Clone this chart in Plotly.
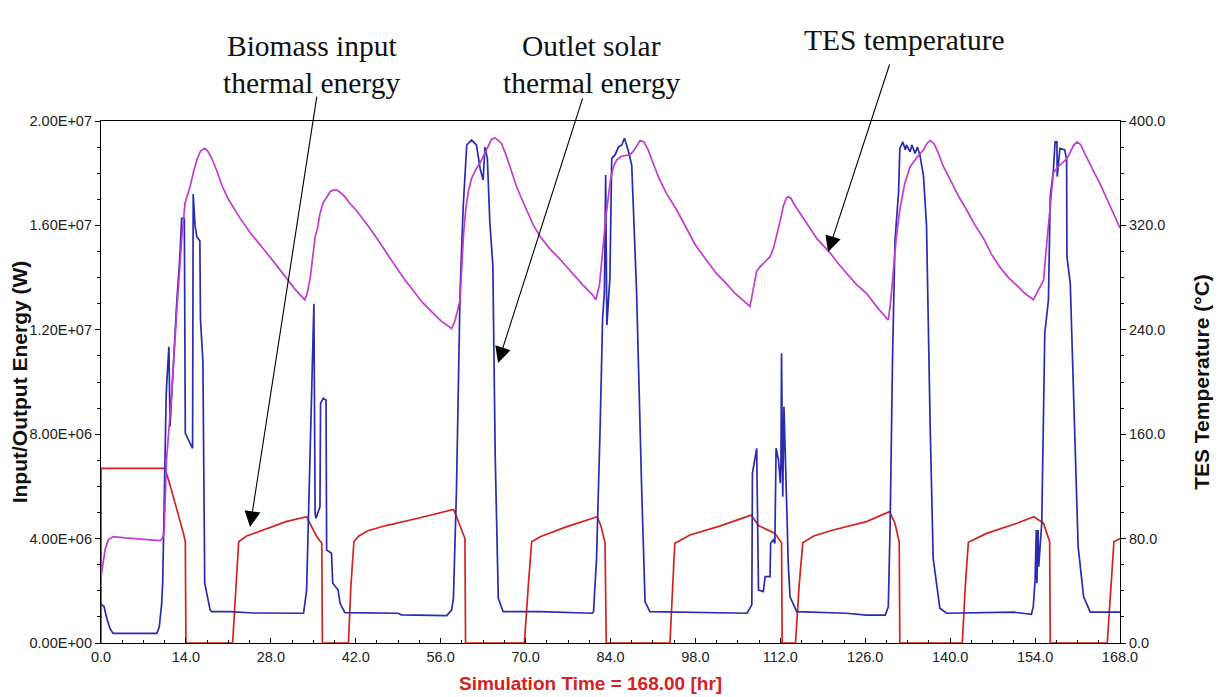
import plotly.graph_objects as go

# ---------------- data (time in hr, energy in 1e6 W, temperature in degC) -------------
biomass_t = [0, 0, 10.2, 10.55, 11.38, 12.75, 13.6, 13.9, 14.0,
             21.7, 22.2, 22.7, 24.0, 27.3, 30.5, 33.9, 34.7, 35.5, 36.4, 36.5,
             40.8, 41.2, 41.7, 42.5, 44.0, 47.0, 52.6, 57.5, 58.1, 58.4, 59.2, 60.0, 60.1,
             69.8, 70.45, 71.0, 72.4, 76.8, 81.8, 82.4, 83.1, 83.3,
             93.8, 94.2, 94.6, 97.1, 102.0, 107.2, 108.4, 111.1, 112.2, 112.3,
             114.5, 115.1, 115.7, 117.5, 120.7, 126.2, 130.0, 130.9, 131.6, 131.7,
             142.0, 142.5, 143.0, 146.0, 151.0, 153.8, 155.4, 156.4, 156.5,
             165.9, 166.5, 167.0, 168.0]
biomass_mw = [0, 6.69, 6.69, 6.69, 6.05, 4.97, 4.2, 3.88, 0,
              0, 2.2, 3.88, 4.1, 4.39, 4.65, 4.84, 4.46, 4.1, 3.82, 0,
              0, 2.2, 3.88, 4.1, 4.3, 4.5, 4.8, 5.1, 5.12, 4.97, 4.52, 4.01, 0,
              0, 2.2, 3.88, 4.07, 4.46, 4.84, 4.5, 3.84, 0,
              0, 2.2, 3.82, 4.14, 4.48, 4.9, 4.5, 4.2, 3.84, 0,
              0, 2.2, 3.84, 4.1, 4.33, 4.65, 5.03, 4.59, 3.88, 0,
              0, 2.2, 3.86, 4.2, 4.59, 4.84, 4.59, 3.88, 0,
              0, 2.2, 3.88, 4.0]

solar_t = [0, 0.5, 1.0, 1.5, 2.0, 9.2, 9.6, 10.0, 10.17, 10.55, 10.75, 10.9, 11.1, 11.2,
           11.38, 11.9, 12.5, 13.0, 13.3, 13.74, 13.9, 15.1, 15.2, 15.5, 15.8, 16.3, 16.4,
           16.8, 17.1, 18.0, 18.25, 21.3, 25.0, 33.1,
           33.4, 33.9, 34.2, 34.6, 34.9, 35.1, 35.3, 35.45, 36.1, 36.2, 36.65, 37.1, 37.2,
           38.0, 38.2, 39.1, 39.4, 40.2, 49.0, 49.5, 57.0,
           57.8, 58.1, 58.6, 59.2, 59.7, 60.3, 61.1, 61.9, 62.5, 63.0, 63.3, 63.7, 64.1,
           64.6, 65.0, 65.5, 66.3, 72.4, 81.0,
           81.2, 81.7, 82.3, 82.7, 83.0, 83.2, 83.4, 83.9, 84.2, 84.75, 85.3, 85.85, 86.3,
           86.9, 87.5, 88.3, 89.15, 89.7, 90.5, 102.0, 106.5,
           107.3, 107.4, 108.1, 108.4, 109.2, 109.5, 110.3, 110.4, 110.85, 111.1, 111.3,
           111.7, 112.0, 112.1, 112.2, 112.4, 112.6, 112.8, 113.1, 113.3, 113.6, 114.7,
           122.9, 126.2, 129.3,
           129.8, 130.1, 130.5, 130.9, 131.5, 131.7, 132.2, 132.6, 132.8, 133.4, 133.7,
           134.2, 134.6, 135.0, 135.6, 136.1, 136.7, 137.2, 138.3, 139.4, 150.4, 153.4,
           153.7, 154.0, 154.2, 154.3, 154.5, 154.6, 155.1, 155.4, 155.6, 156.2, 156.5,
           157.0, 157.3, 157.6, 157.65, 158.1, 158.9, 159.2, 159.25, 159.8, 160.3, 160.6,
           161.1, 162.0, 163.1, 168.0]
solar_mw = [1.49, 1.4, 0.9, 0.55, 0.37, 0.37, 0.6, 1.5, 2.3, 7.9, 9.5, 10.2, 11.35, 11.35,
            8.3, 10.8, 13.1, 14.8, 16.27, 16.27, 8.03, 7.46, 17.2, 16.0, 15.57, 15.4, 12.4,
            10.8, 2.29, 1.26, 1.2, 1.2, 1.15, 1.14,
            1.15, 2.03, 4.97, 8.8, 10.97, 13.0, 4.97, 4.78, 5.22, 9.18, 9.38, 9.3, 3.56,
            3.44, 2.29, 2.03, 1.53, 1.16, 1.14, 1.08, 1.05,
            1.26, 1.71, 5.8, 13.46, 16.65, 19.08, 19.27, 19.08, 18.19, 17.74, 19.0, 18.57, 16.14,
            14.48, 7.08, 1.71, 1.2, 1.2, 1.14,
            1.2, 3.24, 8.35, 12.44, 13.46, 17.93, 12.18, 13.97, 18.57, 18.7, 19.0, 19.08, 19.34,
            18.89, 18.31, 13.46, 5.8, 1.58, 1.2, 1.14, 1.14,
            1.46, 6.5, 7.46, 2.03, 1.97, 2.54, 2.54, 3.82, 3.95, 3.82, 7.46,
            7.01, 6.12, 6.89, 11.1, 5.6, 9.05, 6.89, 4.84, 3.05, 1.77, 1.2,
            1.14, 1.07, 1.07,
            1.39, 4.52, 10.9, 15.4, 17.3, 18.95, 19.2, 18.9, 19.08, 18.82, 19.08,
            18.76, 19.0, 18.7, 17.9, 16.0, 8.35, 3.24, 1.33, 1.14, 1.18, 1.1,
            1.39, 2.41, 4.33, 2.29, 4.33, 2.92, 4.59, 10.08, 11.87, 13.14, 17.1,
            18.06, 19.2, 19.2, 17.87, 18.95, 18.89, 18.5, 14.8, 13.78, 9.8, 7.52,
            3.69, 1.77, 1.18, 1.18]

tes_t = [0, 0.3, 0.7, 1.2, 2.0, 4.0, 7.0, 9.8, 10.1, 10.4, 10.8, 11.65, 12.5, 13.3, 13.85,
         14.7, 15.2, 15.8, 16.4, 17.1, 17.6, 18.2, 19.0, 20.0, 21.0, 21.8, 23.0, 24.5, 26.0,
         27.3, 29.0, 30.5, 32.0, 33.6,
         34.0, 34.5, 35.0, 35.3, 35.7, 36.1, 36.6, 37.2, 37.8, 38.3, 38.9, 39.5, 40.2, 41.0,
         42.0, 43.0, 44.0, 45.5, 47.0, 48.5, 50.0, 51.5, 53.0, 54.5, 56.0, 57.8,
         58.3, 58.8, 59.2, 59.5, 59.8, 60.2, 60.6, 61.1, 61.7, 62.5, 63.2, 63.8, 64.4, 65.0,
         66.0, 66.7, 67.5, 68.5, 69.3, 70.2, 71.3, 72.5, 74.0, 75.5, 76.8, 78.0, 79.5, 81.0,
         81.6,
         82.2, 82.8, 83.2, 83.6, 84.0, 84.5, 85.0, 85.8, 87.2, 87.8, 88.4, 88.9, 89.5, 90.2,
         91.0, 92.0, 93.3, 94.9, 96.5, 98.0, 99.7, 101.5, 103.0, 104.5, 107.0,
         107.4, 108.1, 108.6, 109.3, 110.3, 110.9, 111.5, 112.0, 112.5, 113.0, 113.3, 113.7,
         114.3, 115.3, 116.5, 118.0, 120.2, 121.5, 123.0, 124.5, 126.2, 128.0, 129.8,
         130.2, 130.6, 131.1, 131.7, 132.5, 133.4, 134.5, 135.6, 136.2, 136.7, 137.3, 138.0,
         138.9, 140.0, 141.3, 142.7, 144.0, 145.5, 146.8, 148.2, 149.6, 151.0, 152.3, 153.7,
         154.5, 155.4, 155.8, 156.2, 156.6, 157.0, 157.6, 158.3, 159.2, 159.7, 160.3, 160.9,
         161.5, 162.2, 163.0, 163.8, 164.7, 166.4, 168.0]
tes_c = [50.8, 60, 72, 79, 81.5, 80.5, 79.5, 78.5, 80, 84, 140, 191, 255, 309, 337,
         350, 360, 370, 377, 379, 377, 372, 363, 350, 340, 334, 325, 315, 306,
         299, 289, 280, 271, 263,
         268, 280, 300, 311, 318, 329, 337, 342, 346, 347, 347, 345, 342, 337,
         332, 326, 320, 310, 300, 289, 279, 270, 261, 254, 247, 241,
         246, 255, 263, 290, 315, 335, 347, 356, 362, 368, 375, 381, 386, 387,
         383, 375, 364, 350, 341, 332, 320, 311, 302, 295, 288, 282, 274, 267,
         263,
         275, 306, 325, 340, 355, 365, 370, 373, 374, 377, 382, 385, 384, 378,
         368, 356, 344, 332, 318, 305, 294, 283, 276, 268, 258,
         268, 285, 288, 291, 296, 303, 314, 324, 335, 341, 342, 341,
         336, 329, 320, 310, 299, 291, 283, 275, 268, 257, 247.5,
         262, 283, 310, 332, 352, 365, 372, 378, 383, 385, 383, 376,
         365, 355, 343, 332, 321, 310, 298, 288, 280, 274, 268, 263,
         270, 278, 300, 319, 340, 360, 364, 367, 371, 375, 381, 384,
         382, 375, 367, 360, 352, 335, 318]

left_ticks_mw = [0, 4, 8, 12, 16, 20]
right_ticks_c = [0, 80, 160, 240, 320, 400]

# ---------------------------------------------------------------------------------------
BLUE = "#2B2BAE"
RED = "#D42222"
PURPLE = "#C23CD0"

fig = go.Figure()
fig.add_trace(go.Scatter(x=biomass_t, y=[v * 1e6 for v in biomass_mw], mode="lines",
                         line=dict(color=RED, width=1.7), name="Biomass input thermal energy"))
fig.add_trace(go.Scatter(x=solar_t, y=[v * 1e6 for v in solar_mw], mode="lines",
                         line=dict(color=BLUE, width=1.7), name="Outlet solar thermal energy"))
fig.add_trace(go.Scatter(x=tes_t, y=tes_c, mode="lines", yaxis="y2",
                         line=dict(color=PURPLE, width=1.7), name="TES temperature"))

tick_font = dict(family="Liberation Sans, Arial, sans-serif", size=14.5, color="#222222")
title_font = dict(family="Liberation Sans, Arial, sans-serif", size=21, color="#111111")

left_vals = [v * 1e6 for v in left_ticks_mw]
fig.update_layout(
    width=1222, height=697,
    margin=dict(l=93, r=110, t=113, b=62),
    paper_bgcolor="white", plot_bgcolor="white",
    showlegend=False,
    xaxis=dict(range=[0, 168], tick0=0, dtick=14, tickformat=".1f", automargin=False,
               showgrid=False, zeroline=False, showline=True, linecolor="black",
               linewidth=1.2, mirror=True, ticks="inside", ticklen=5, tickcolor="black",
               minor=dict(dtick=3.5, ticks="inside", ticklen=3, tickcolor="black"),
               tickfont=tick_font),
    yaxis=dict(range=[0, 2e7], tickvals=left_vals, automargin=False,
               ticktext=[f"{v:.2E}" for v in left_vals],
               showgrid=False, zeroline=False, showline=True, linecolor="black",
               linewidth=1.2, ticks="outside", ticklen=5, tickcolor="black",
               minor=dict(dtick=1e6, ticks="outside", ticklen=3, tickcolor="black"),
               tickfont=tick_font,
               title=dict(text="<b>Input/Output Energy (W)</b>", font=title_font, standoff=0)),
    yaxis2=dict(range=[0, 400], overlaying="y", side="right", tickvals=right_ticks_c,
                tickformat=".1f", showgrid=False, zeroline=False, showline=True,
                automargin=False,
                linecolor="black", linewidth=1.2, ticks="outside", ticklen=5,
                tickcolor="black",
                minor=dict(dtick=20, ticks="outside", ticklen=3, tickcolor="black"),
                tickfont=tick_font,
                title=dict(text="<b>TES Temperature (°C)</b>", font=title_font, standoff=30)),
)

# x-axis title (placed left of centre as in the original)
fig.add_annotation(text="<b>Simulation Time = 168.00 [hr]</b>", xref="paper", yref="paper",
                   x=0.48, y=-0.077, xanchor="center", yanchor="middle", showarrow=False,
                   font=dict(family="Liberation Sans, Arial, sans-serif", size=19,
                             color="#D42222"))

serif = dict(family="Liberation Serif, Times New Roman, serif", size=29.5, color="#111111")
labels = [("Biomass input", 0.207, 1.143), ("thermal energy", 0.207, 1.072),
          ("Outlet solar", 0.481, 1.143), ("thermal energy", 0.481, 1.072),
          ("TES temperature", 0.789, 1.155)]
for txt, px, py in labels:
    fig.add_annotation(text=txt, xref="paper", yref="paper", x=px, y=py,
                       xanchor="center", yanchor="middle", showarrow=False, font=serif)

arrows = [(24.57, 4.44e6, 67, -432), (65.46, 10.73e6, 85, -266), (119.87, 14.98e6, 62, -189)]
for hx, hy, axp, ayp in arrows:
    fig.add_annotation(x=hx, y=hy, xref="x", yref="y", ax=axp, ay=ayp, text="",
                       showarrow=True, arrowhead=2, arrowsize=2.9, arrowwidth=1.1,
                       arrowcolor="black", standoff=0)

fig.write_html("out.html")
